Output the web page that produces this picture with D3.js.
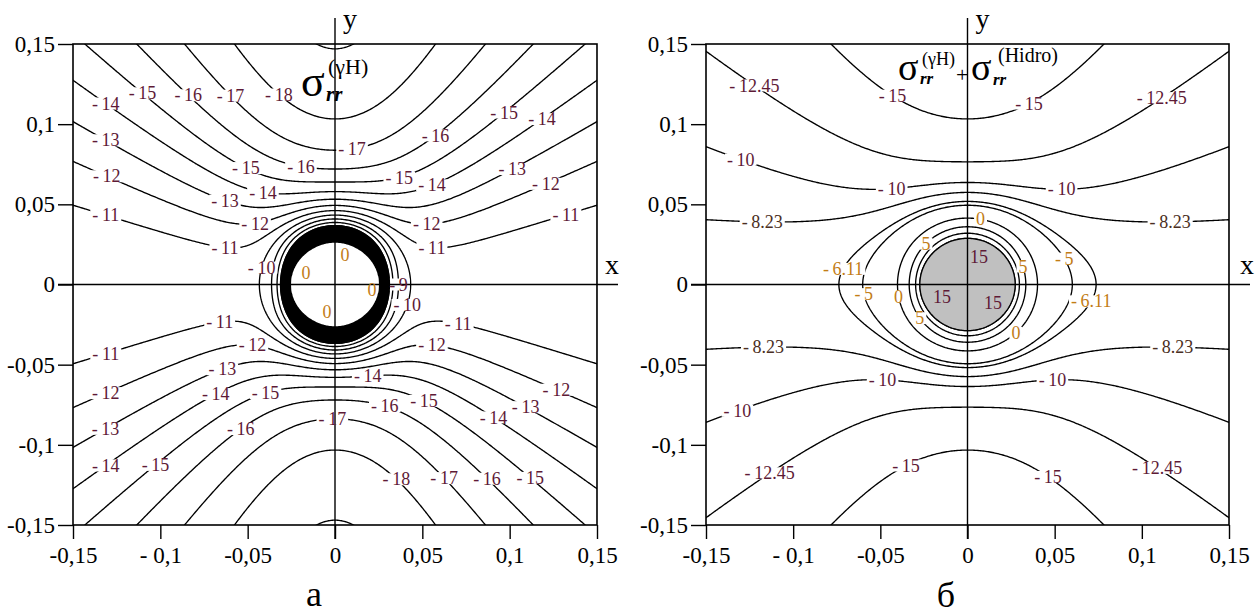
<!DOCTYPE html>
<html><head><meta charset="utf-8">
<script src="https://cdn.jsdelivr.net/npm/d3@7"></script>
<style>body{margin:0;background:#fff}svg{display:block}
text{font-family:"Liberation Serif","Times New Roman",serif !important}</style>
</head><body><svg id="c" width="1258" height="616"></svg>
<script>
// ---------- data ----------
const xTicks = [-0.15,-0.1,-0.05,0,0.05,0.1,0.15];
const xTickLabels = ["-0,15","- 0,1","-0,05","0","0,05","0,1","0,15"];
const yTicks = [0.15,0.1,0.05,0,-0.05,-0.1,-0.15];
const yTickLabels = ["0,15","0,1","0,05","0","-0,05","-0,1","-0,15"];

const holeRadius = 0.025;
// panel а : σrr(γH)  (far-field horizontal, vertical stress, hole pressure, value inside hole)
const stressA = {sx:-10, sy:-20, p:0, inside:0};
// panel б : σrr(γH)+σrr(Hidro)
const stressB = {sx:-8, sy:-18.2, p:22, inside:22};

const levelsA = [-19,-18,-17,-16,-15,-14,-13,-12,-11,-10,-9,-8,-7];
const ringLevelA = -7;
const levelsB = [-15,-12.45,-10,-8.23,-6.11,-5,0,5,10,15];
const coreLevelB = 15;

// contour labels: [level, x, y]
const labelsA = [
[-14,-0.1317,0.112],[-15,-0.1116,0.117],[-16,-0.0847,0.117],[-17,-0.0601,0.117],[-18,-0.0332,0.117],
[-13,-0.1317,0.0889],[-12,-0.1317,0.0652],[-11,-0.1317,0.0421],
[-15,-0.0515,0.0714],[-16,-0.02,0.0727],[-13,-0.063,0.0515],[-14,-0.0412,0.0558],[-12,-0.0458,0.039],[-11,-0.063,0.0215],[-10,-0.0447,0.0109],
[-17,0.0103,0.0827],[-16,0.0584,0.0914],[-15,0.0985,0.1057],[-14,0.1202,0.1007],[-15,0.0372,0.0652],[-14,0.0561,0.059],[-13,0.1019,0.0714],[-12,0.1214,0.0602],[-12,0.0527,0.0402],[-11,0.1328,0.0421],[-11,0.0555,0.0228],[-9,0.0389,0.0],[-10,0.0441,-0.014],
[-11,-0.0658,-0.0234],[-11,-0.1305,-0.0459],[-12,-0.0475,-0.039],[-13,-0.0647,-0.0533],[-12,-0.1305,-0.0702],[-14,-0.0675,-0.0708],[-15,-0.0389,-0.0702],[-13,-0.1305,-0.092],[-16,-0.0527,-0.092],[-15,-0.1019,-0.1138],[-14,-0.1305,-0.1145],
[-11,0.0704,-0.0265],[-12,0.0555,-0.0396],[-14,0.0189,-0.0596],[-16,0.0286,-0.0752],[-15,0.0504,-0.0739],[-17,-0.0017,-0.0858],[-12,0.1271,-0.0658],[-13,0.1088,-0.077],[-14,0.0904,-0.0833],[-18,0.0355,-0.1207],[-17,0.063,-0.1207],[-16,0.0876,-0.1207],[-15,0.1116,-0.1207]
];
const holeLabelsA = [[0,0.0057,0.0184],[0,-0.0166,0.0072],[0,0.0212,-0.0034],[0,-0.0046,-0.0172]];

const labelsB = [
[-12.45,-0.1259,0.1182],[-15,-0.0433,0.117],[-10,-0.1316,0.0733],[-10,-0.0433,0.0577],[-8.23,-0.1179,0.0384],[-6.11,-0.0703,0.009],[-5,-0.0542,-0.0047],
[-15,0.0359,0.1107],[-12.45,0.1121,0.1151],[-10,0.0542,0.0577],[-8.23,0.1162,0.0384],[0,0.0072,0.0371],[-5,0.0513,0.0134],
[-8.23,-0.1173,-0.0346],[-10,-0.0485,-0.0596],[-10,-0.1322,-0.077],[-12.45,-0.1173,-0.1114],[-15,-0.0347,-0.1145],
[-6.11,0.076,-0.014],[0,0.0261,-0.0284],[-8.23,0.1179,-0.0359],[-10,0.049,-0.0596],[-12.45,0.1087,-0.1145],[-15,0.0456,-0.1207],
[5,-0.021,0.0228],[5,0.0301,0.0109],[0,-0.0359,-0.0066],[5,-0.0261,-0.0203]
];
const holeLabelsB = [[15,0.0066,0.0172],[15,-0.0146,-0.0078],[15,0.0146,-0.0115]];

// ---------- drawing ----------
const N = 401, LO = -0.15, HI = 0.15, STEP = (HI-LO)/(N-1);
const svg = d3.select("#c");

function sigmaRR(x, y, prm){
  const r2 = x*x + y*y, a2 = holeRadius*holeRadius;
  if (r2 < a2) return prm.inside;
  const s = a2/r2, c2 = (x*x - y*y)/r2;
  const A = (prm.sx+prm.sy)/2, B = (prm.sx-prm.sy)/2;
  return A*(1-s) + B*(1-4*s+3*s*s)*c2 + prm.p*s;
}
function grid(prm){
  const v = new Float64Array(N*N);
  for (let j=0;j<N;j++){ const y = HI - j*STEP;
    for (let i=0;i<N;i++){ v[j*N+i] = sigmaRR(LO + i*STEP, y, prm); } }
  return v;
}
function fmt(v){ return v<0 ? "-\u2009"+String(-v) : String(v); }
function labColor(v){
  if (v===0 || v===5 || v===-5 || v===-6.11) return "#c27c16";
  if (v===-8.23) return "#4a2e22";
  return "#5e1a36";
}

function drawPanel(P){
  const xs = d3.scaleLinear().domain([LO,HI]).range([P.x0,P.x1]);
  const ys = d3.scaleLinear().domain([LO,HI]).range([P.y1,P.y0]);
  const vals = grid(P.prm);
  const gen = d3.contours().size([N,N]).smooth(true);
  const gx2d = gx => LO + (gx-0.5)*STEP, gy2d = gy => HI - (gy-0.5)*STEP;
  const proj = d3.geoTransform({point(gx,gy){ this.stream.point(xs(gx2d(gx)), ys(gy2d(gy))); }});
  const path = d3.geoPath(proj);
  const clipId = "clip"+P.id;
  svg.append("clipPath").attr("id",clipId).append("rect")
    .attr("x",P.x0).attr("y",P.y0).attr("width",P.x1-P.x0).attr("height",P.y1-P.y0);
  const g = svg.append("g");
  const cg = g.append("g").attr("clip-path",`url(#${clipId})`);
  const lineG = cg.append("g"), gapG = cg.append("g"), fillG = cg.append("g");

  lineG.selectAll("path.lv").data(P.levels.map(v=>gen.contour(vals,v))).join("path")
    .attr("class","lv").attr("d",path).attr("fill","none")
    .attr("stroke","#000").attr("stroke-width",1.35).attr("stroke-linejoin","round");
  P.fills.forEach(f=>{
    fillG.append("path").datum(gen.contour(vals,f.t)).attr("d",path)
      .attr("fill",f.fill).attr("stroke",f.stroke||"none").attr("stroke-width",1.3);
  });

  // frame
  g.append("rect").attr("x",P.x0).attr("y",P.y0).attr("width",P.x1-P.x0).attr("height",P.y1-P.y0)
    .attr("fill","none").attr("stroke","#000").attr("stroke-width",1.6);
  // axes through origin
  g.append("line").attr("x1",P.x0-15).attr("x2",P.x1+21).attr("y1",ys(0)).attr("y2",ys(0))
    .attr("stroke","#000").attr("stroke-width",1.4);
  g.append("line").attr("x1",xs(0)).attr("x2",xs(0)).attr("y1",P.y0-26).attr("y2",P.y1+14)
    .attr("stroke","#000").attr("stroke-width",1.4);

  // tick axes
  const ay = d3.axisLeft(ys).tickValues(yTicks).tickSize(15).tickSizeOuter(0).tickPadding(3)
    .tickFormat((d,i)=>yTickLabels[i]);
  const ax = d3.axisBottom(xs).tickValues(xTicks).tickSize(14).tickSizeOuter(0).tickPadding(8)
    .tickFormat((d,i)=>xTickLabels[i]);
  [g.append("g").attr("transform",`translate(${P.x0},0)`).call(ay),
   g.append("g").attr("transform",`translate(0,${P.y1})`).call(ax)].forEach(a=>{
     a.attr("font-family",null);
     a.select(".domain").remove();
     a.selectAll("line").attr("stroke","#000").attr("stroke-width",1.4);
     a.selectAll("text").attr("fill","#000").style("font-size","23px");
   });

  // axis letters
  g.append("text").attr("x",xs(0)+15).attr("y",P.y0-16).attr("text-anchor","middle")
    .style("font-size","28px").text("y");
  g.append("text").attr("x",P.x1+15+(P.id==="b"?3:0)).attr("y",ys(0)-11).attr("text-anchor","middle")
    .style("font-size","28px").text("x");

  // contour labels (snapped to nearest point of the contour of that level)
  const cache = new Map();
  function pts(v){
    if (cache.has(v)) return cache.get(v);
    const out = [];
    for (const poly of gen.contour(vals,v).coordinates) for (const ring of poly) for (const [gx,gy] of ring){
      const dx = gx2d(gx), dy = gy2d(gy);
      if (Math.abs(dx)>0.1488 || Math.abs(dy)>0.1488) continue;
      out.push([xs(dx), ys(dy)]);
    }
    cache.set(v,out); return out;
  }
  const lg = g.append("g");
  function putLabel(v, x, y, snap){
    let px = xs(x), py = ys(y);
    if (snap){
      let bd = Infinity, best = null;
      for (const q of pts(v)){ const d=(q[0]-px)**2+(q[1]-py)**2; if (d<bd){bd=d;best=q;} }
      if (best && bd < 400){ px = best[0]; py = best[1]; }
    }
    const t = lg.append("text").attr("x",px).attr("y",py).attr("dy","0.34em")
      .attr("text-anchor","middle").style("font-size","18px").attr("fill",labColor(v)).text(fmt(v));
    if (snap){
      const b = t.node().getBBox();
      gapG.append("rect").attr("x",b.x-2).attr("y",py-6).attr("width",b.width+4).attr("height",12)
        .attr("fill","#fff");
    }
  }
  P.labels.forEach(l=>putLabel(l[0],l[1],l[2],true));
  P.holeLabels.forEach(l=>putLabel(l[0],l[1],l[2],false));
}

drawPanel({id:"a", x0:73, x1:597, y0:44, y1:525, prm:stressA, levels:levelsA,
  fills:[{t:ringLevelA, fill:"#000", stroke:"#000"},{t:-0.5, fill:"#fff"}],
  labels:labelsA, holeLabels:holeLabelsA});
drawPanel({id:"b", x0:706, x1:1229, y0:44, y1:525, prm:stressB, levels:levelsB,
  fills:[{t:coreLevelB, fill:"#c0c0c0", stroke:"#000"}],
  labels:labelsB, holeLabels:holeLabelsB});

// titles
function title(parts){
  const t = svg.append("g");
  parts.forEach(p=>{
    t.append("text").attr("x",p[1]).attr("y",p[2]).style("font-size",p[3]+"px")
      .style("font-style",p[4]?"italic":"normal").style("font-weight",p[4]?"bold":"normal")
      .attr("fill","#000").text(p[0]);
  });
}
title([["σ",301,96,44,false],["rr",326,101,21,true],["(γH)",328,74,22,false]]);
title([["σ",898,80,38,false],["rr",920,84,17,true],["(γH)",922,65,18,false],
       ["+",956,82,22,false],["σ",971,80,38,false],["rr",993,85,17,true],["(Hidro)",998,62,20,false]]);

// panel captions
svg.append("text").attr("x",314).attr("y",606).attr("text-anchor","middle").style("font-size","36px").text("а");
svg.append("text").attr("x",946).attr("y",607).attr("text-anchor","middle").style("font-size","36px").text("б");
</script></body></html>
